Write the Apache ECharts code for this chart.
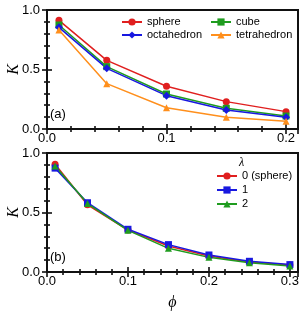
<!DOCTYPE html>
<html><head><meta charset="utf-8">
<script src="https://cdn.jsdelivr.net/npm/echarts@6/dist/echarts.min.js"></script>
<style>html,body{margin:0;padding:0;background:#fff}#c{width:304px;height:313px}</style>
</head><body><div id="c"></div>
<script>
// Panel (a)
var phiA = [0.01, 0.05, 0.10, 0.15, 0.20];
var sphereA = [0.913, 0.577, 0.359, 0.230, 0.146];
var cubeA = [0.874, 0.524, 0.294, 0.174, 0.109];
var octaA = [0.854, 0.510, 0.280, 0.160, 0.098];
var tetraA = [0.832, 0.381, 0.179, 0.098, 0.065];
// Panel (b)
var phiB = [0.01, 0.05, 0.10, 0.15, 0.20, 0.25, 0.30];
var lam0 = [0.905, 0.565, 0.353, 0.218, 0.134, 0.085, 0.058];
var lam1 = [0.873, 0.582, 0.359, 0.230, 0.143, 0.090, 0.062];
var lam2 = [0.890, 0.575, 0.350, 0.199, 0.123, 0.078, 0.050];
var xTicksA = [0.0, 0.1, 0.2];
var xTicksB = [0.0, 0.1, 0.2, 0.3];
var yTicks = [0.0, 0.5, 1.0];

var RED = '#e01f1f', BLUE = '#1818e0', GREEN = '#1f9c1f', ORANGE = '#ff8f1c';
function pairs(xs, ys){ return xs.map(function(x,i){return [x, ys[i]];}); }
function ser(name, xi, yi, xs, ys, color, sym, size){
  return {name:name, type:'line', xAxisIndex:xi, yAxisIndex:yi, data:pairs(xs,ys),
    symbol:sym, symbolSize:size, color:color, lineStyle:{width:1.5, color:color},
    itemStyle:{color:color}, z: 3};
}
function dummy(xi, yi){
  return {type:'line', xAxisIndex:xi, yAxisIndex:yi, data:[], silent:true, symbol:'none'};
}
var lblFont = {color:'#000', fontSize:13, fontFamily:'Liberation Sans, Arial'};
function xAx(grid, max, top, name){
  return {type:'value', gridIndex:grid, min:0, max:max, interval:0.1, position: top?'top':'bottom',
    axisLine:{show:false},
    axisTick:{show:true, inside:true, length:5, lineStyle:{color:'#000', width:1.5}},
    minorTick:{show:true, splitNumber:5, length:3, lineStyle:{color:'#000', width:1.5}},
    splitLine:{show:false},
    axisLabel:Object.assign({show:!top, margin:3, formatter:function(v){return v.toFixed(1);},
      showMaxLabel:false}, lblFont),
    name: name || '', nameLocation:'middle', nameGap:23, nameMoveOverlap:false,
    nameTextStyle:{fontFamily:'Liberation Serif, Times New Roman', fontStyle:'italic', fontSize:16, color:'#000'}
  };
}
function yAx(grid, right, name){
  return {type:'value', gridIndex:grid, min:0, max:1, interval:0.5, position: right?'right':'left',
    axisLine:{show:false},
    axisTick:{show:true, inside:true, length:5, lineStyle:{color:'#000', width:1.5}},
    minorTick:{show:true, splitNumber:5, length:3, lineStyle:{color:'#000', width:1.5}},
    splitLine:{show:false},
    axisLabel:Object.assign({show:!right, margin:7, formatter:function(v){return v.toFixed(1);}}, lblFont),
    name: name || '', nameLocation:'middle', nameGap:25, nameRotate:90, nameMoveOverlap:false,
    nameTextStyle:{fontFamily:'Liberation Serif, Times New Roman', fontStyle:'italic', fontSize:16, color:'#000'}
  };
}
var legText = {fontSize:11, fontFamily:'Liberation Sans, Arial', color:'#000', lineHeight:12};
var gridBase = {left:47, width:251, height:119, containLabel:false, outerBoundsMode:'none', show:true,
  borderColor:'#111111', borderWidth:2, backgroundColor:'rgba(255,255,255,0)', z:5};
var chart = echarts.init(document.getElementById('c'), null, {renderer:'canvas'});
chart.setOption({
  animation:false,
  grid:[
    Object.assign({top:10}, gridBase),
    Object.assign({top:153}, gridBase)
  ],
  xAxis:[ xAx(0,0.21,false), xAx(0,0.21,true), xAx(1,0.31,false,'ϕ'), xAx(1,0.31,true) ],
  yAxis:[ yAx(0,false,'K'), yAx(0,true), yAx(1,false,'K'), yAx(1,true) ],
  legend:[
    {data:['sphere','octahedron'], orient:'vertical', left:121, top:16, itemWidth:20, itemHeight:9, itemGap:1, textStyle:legText, padding:0},
    {data:['cube','tetrahedron'], orient:'vertical', left:210, top:16, itemWidth:20, itemHeight:9, itemGap:1, textStyle:legText, padding:0},
    {data:['0 (sphere)','1','2'], orient:'vertical', left:216, top:170, itemWidth:20, itemHeight:9, itemGap:2, textStyle:legText, padding:0}
  ],
  graphic:[
    {type:'text', left:50, top:108, z:10, style:{text:'(a)', font:'13px Liberation Sans, Arial', fill:'#000'}},
    {type:'text', left:50, top:251, z:10, style:{text:'(b)', font:'13px Liberation Sans, Arial', fill:'#000'}},
    {type:'text', left:239, top:157, style:{text:'λ', font:'italic 12px Liberation Serif, Times New Roman', fill:'#000'}}
  ],
  series:[
    ser('sphere',0,0,phiA,sphereA,RED,'circle',7),
    ser('cube',0,0,phiA,cubeA,GREEN,'rect',7),
    ser('octahedron',0,0,phiA,octaA,BLUE,'diamond',8),
    ser('tetrahedron',0,0,phiA,tetraA,ORANGE,'triangle',7),
    ser('0 (sphere)',2,2,phiB,lam0,RED,'circle',7),
    ser('1',2,2,phiB,lam1,BLUE,'rect',7),
    ser('2',2,2,phiB,lam2,GREEN,'triangle',7),
    dummy(1,1), dummy(3,3)
  ]
});
</script></body></html>
